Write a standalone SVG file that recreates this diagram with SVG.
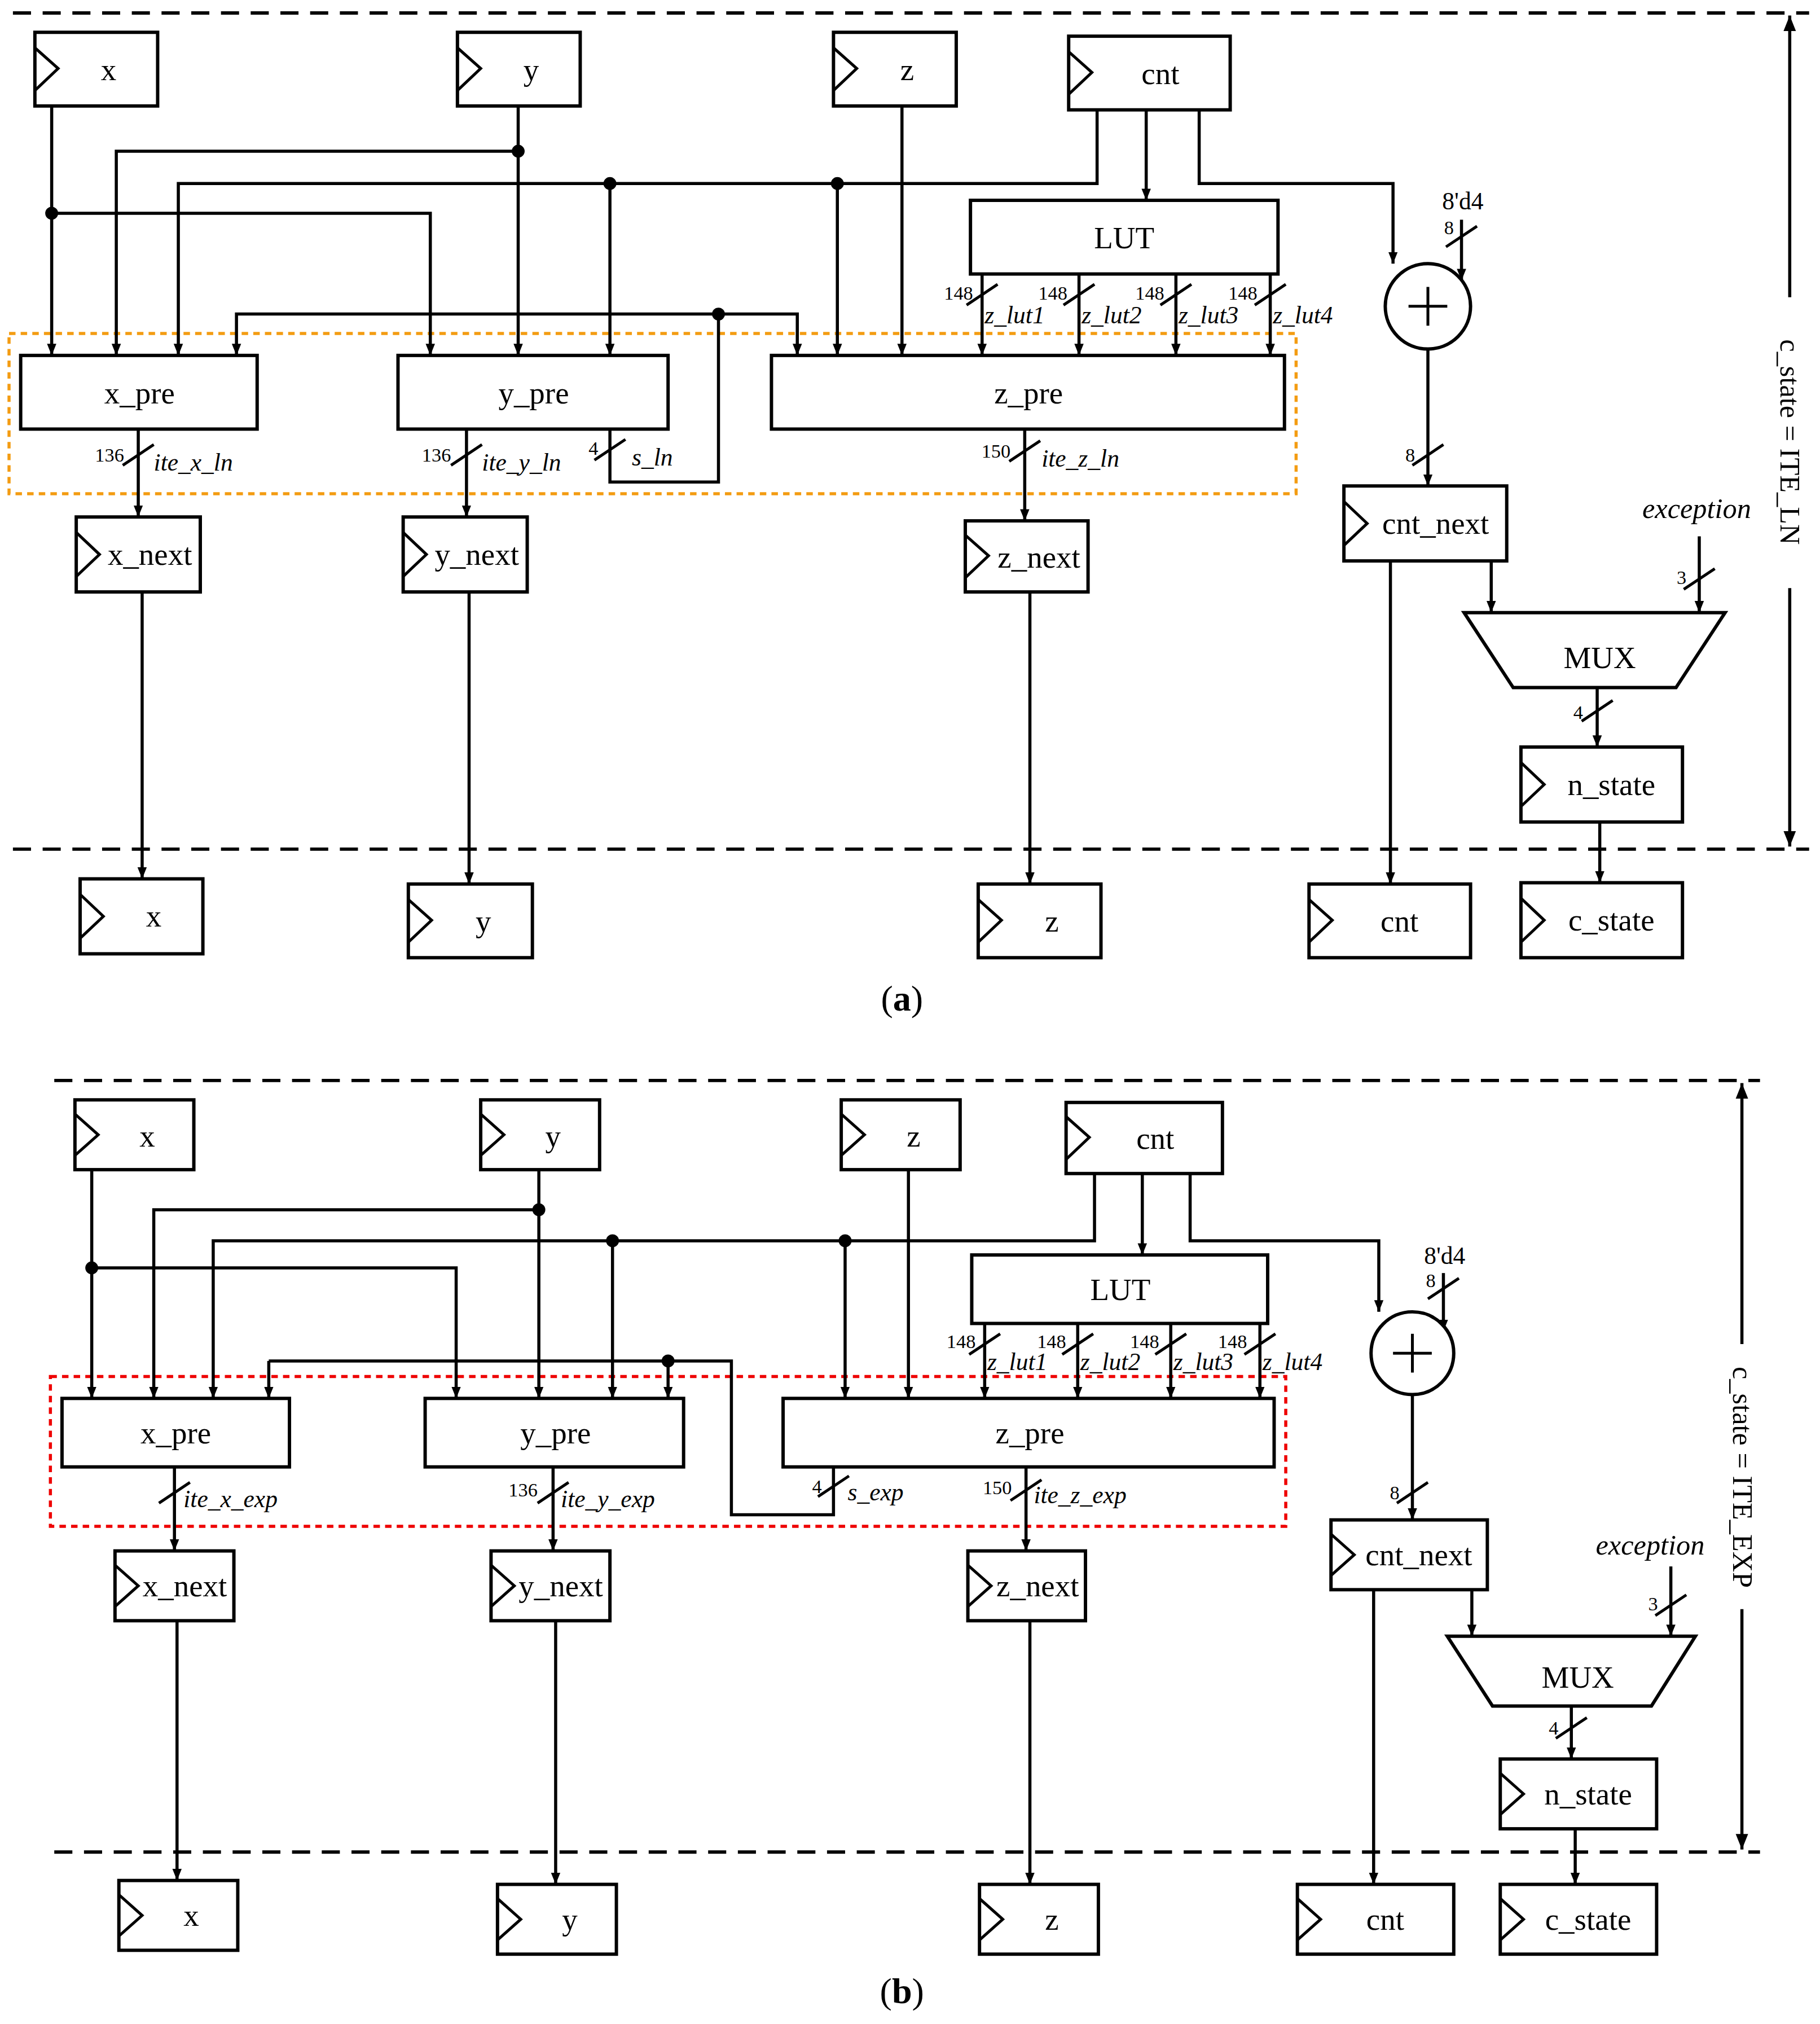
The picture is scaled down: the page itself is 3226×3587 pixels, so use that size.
<svg xmlns="http://www.w3.org/2000/svg" width="3226" height="3587" viewBox="0 0 3226 3587">
<style>
.b{fill:#fff;stroke:#000;stroke-width:2.6}
.c{fill:none;stroke:#000;stroke-width:2.2}
.w{fill:none;stroke:#000;stroke-width:2.4}
.a{fill:none;stroke:#000;stroke-width:2.4;marker-end:url(#ar)}
.d{fill:none;stroke:#000;stroke-width:2.6;stroke-dasharray:14 9}
.s{stroke:#000;stroke-width:2.2}
text{font-family:"Liberation Serif",serif;fill:#000}
.t{font-size:24px;text-anchor:middle}
.n{font-size:15px;text-anchor:end}
.i{font-size:19px;font-style:italic}
</style>
<defs>
<marker id="ar" viewBox="0 0 10 10" refX="10" refY="5" markerWidth="9" markerHeight="9" markerUnits="userSpaceOnUse" orient="auto"><path d="M0,1 L10,5 L0,9 z"/></marker>
<marker id="ab" viewBox="0 0 10 10" refX="10" refY="5" markerWidth="12" markerHeight="12" markerUnits="userSpaceOnUse" orient="auto-start-reverse"><path d="M0,1 L10,5 L0,9 z"/></marker>
</defs>
<rect width="3226" height="3587" fill="#fff"/>
<g transform="scale(2.2905)">
<!-- panel a -->
<g id="frame-a">
<line class="d" x1="10" y1="10" x2="1400" y2="10"/>
<line class="d" x1="10" y1="657" x2="1400" y2="657"/>
<line class="w" x1="1385" y1="12" x2="1385" y2="230" style="marker-start:url(#ab)"/>
<line class="w" x1="1385" y1="455" x2="1385" y2="655" style="marker-end:url(#ab)"/>
<text class="t" transform="translate(1378,342) rotate(90)" style="font-size:22px">c_state = ITE_LN</text>
<rect x="7" y="258" width="996" height="124" fill="none" stroke="#f39c12" stroke-width="2.4" stroke-dasharray="5 4"/>
<text class="t" x="698" y="782" style="font-size:28px">(<tspan font-weight="bold">a</tspan>)</text>
</g>
<g id="connectors-a">
<polyline class="a" points="40,82 40,275"/>
<polyline class="a" points="40,165 333,165 333,275"/>
<polyline class="a" points="401,82 401,275"/>
<polyline class="a" points="401,117 90,117 90,275"/>
<polyline class="a" points="849,85 849,142 138,142 138,275"/>
<polyline class="a" points="472,142 472,275"/>
<polyline class="a" points="648,142 648,275"/>
<polyline class="a" points="887,85 887,155"/>
<polyline class="a" points="928,85 928,142 1078,142 1078,204"/>
<polyline class="a" points="698,82 698,275"/>
<polyline class="w" points="472,332 472,373 556,373 556,243"/>
<polyline class="a" points="556,243 183,243 183,275"/>
<polyline class="a" points="556,243 617,243 617,275"/>
<polyline class="a" points="760,212 760,275"/>
<polyline class="a" points="835,212 835,275"/>
<polyline class="a" points="910,212 910,275"/>
<polyline class="a" points="983,212 983,275"/>
<polyline class="a" points="107,332 107,400"/>
<polyline class="a" points="361,332 361,400"/>
<polyline class="a" points="793,332 793,403"/>
<polyline class="a" points="110,458 110,680"/>
<polyline class="a" points="363,458 363,684"/>
<polyline class="a" points="797,458 797,684"/>
<polyline class="a" points="1131,170 1131,217"/>
<polyline class="a" points="1105,270 1105,376"/>
<polyline class="a" points="1076,434 1076,684"/>
<polyline class="a" points="1154,434 1154,474"/>
<polyline class="a" points="1315,415 1315,474"/>
<polyline class="a" points="1236,532 1236,578"/>
<polyline class="a" points="1238,636 1238,683"/>
<g fill="#000"><circle cx="40" cy="165" r="5"/><circle cx="401" cy="117" r="5"/><circle cx="472" cy="142" r="5"/><circle cx="648" cy="142" r="5"/><circle cx="556" cy="243" r="5"/></g>
<g class="s">
<line x1="748" y1="236" x2="772" y2="220"/><line x1="823" y1="236" x2="847" y2="220"/><line x1="898" y1="236" x2="922" y2="220"/><line x1="971" y1="236" x2="995" y2="220"/>
<line x1="95" y1="360" x2="119" y2="344"/><line x1="349" y1="360" x2="373" y2="344"/><line x1="781" y1="357" x2="805" y2="341"/><line x1="460" y1="356" x2="484" y2="340"/>
<line x1="1119" y1="191" x2="1143" y2="175"/><line x1="1093" y1="360" x2="1117" y2="344"/><line x1="1303" y1="456" x2="1327" y2="440"/><line x1="1224" y1="558" x2="1248" y2="542"/>
</g>
<g>
<text class="n" x="753" y="232">148</text><text class="n" x="826" y="232">148</text><text class="n" x="901" y="232">148</text><text class="n" x="973" y="232">148</text>
<text class="i" x="762" y="250">z_lut1</text><text class="i" x="837" y="250">z_lut2</text><text class="i" x="912" y="250">z_lut3</text><text class="i" x="985" y="250">z_lut4</text>
<text class="n" x="96" y="357">136</text><text class="i" x="119" y="364">ite_x_ln</text>
<text class="n" x="349" y="357">136</text><text class="i" x="373" y="364">ite_y_ln</text>
<text class="n" x="782" y="354">150</text><text class="i" x="806" y="361">ite_z_ln</text>
<text class="n" x="463" y="352">4</text><text class="i" x="489" y="360">s_ln</text>
<text class="t" x="1132" y="162" style="font-size:19px">8'd4</text><text class="n" x="1125" y="181">8</text>
<text class="n" x="1095" y="357">8</text><text class="n" x="1305" y="452">3</text><text class="n" x="1225" y="556">4</text>
<text class="i" x="1313" y="401" text-anchor="middle" style="font-size:22px">exception</text>
</g>
</g>
<g id="nodes-a">
<g id="a-x"><rect class="b" x="27" y="25" width="95" height="57"/><polyline class="c" points="27,37 45,53 27,70"/><text class="t" x="84" y="62">x</text></g>
<g id="a-y"><rect class="b" x="354" y="25" width="95" height="57"/><polyline class="c" points="354,37 372,53 354,70"/><text class="t" x="411" y="62">y</text></g>
<g id="a-z"><rect class="b" x="645" y="25" width="95" height="57"/><polyline class="c" points="645,37 663,53 645,70"/><text class="t" x="702" y="62">z</text></g>
<g id="a-cnt"><rect class="b" x="827" y="28" width="125" height="57"/><polyline class="c" points="827,40 845,56 827,73"/><text class="t" x="898" y="65">cnt</text></g>
<g id="a-lut"><rect class="b" x="751" y="155" width="238" height="57"/><text class="t" x="870" y="192">LUT</text></g>
<g id="a-xpre"><rect class="b" x="16" y="275" width="183" height="57"/><text class="t" x="108" y="312">x_pre</text></g>
<g id="a-ypre"><rect class="b" x="308" y="275" width="209" height="57"/><text class="t" x="413" y="312">y_pre</text></g>
<g id="a-zpre"><rect class="b" x="597" y="275" width="397" height="57"/><text class="t" x="796" y="312">z_pre</text></g>
<g id="a-xnext"><rect class="b" x="59" y="400" width="96" height="58"/><polyline class="c" points="59,412 77,429 59,446"/><text class="t" x="116" y="437">x_next</text></g>
<g id="a-ynext"><rect class="b" x="312" y="400" width="96" height="58"/><polyline class="c" points="312,412 330,429 312,446"/><text class="t" x="369" y="437">y_next</text></g>
<g id="a-znext"><rect class="b" x="747" y="403" width="95" height="55"/><polyline class="c" points="747,414 765,430 747,447"/><text class="t" x="804" y="439">z_next</text></g>
<g id="a-add"><circle class="b" cx="1105" cy="237" r="33"/><line class="c" x1="1090" y1="237" x2="1120" y2="237"/><line class="c" x1="1105" y1="222" x2="1105" y2="252"/></g>
<g id="a-cntnext"><rect class="b" x="1040" y="376" width="126" height="58"/><polyline class="c" points="1040,388 1058,405 1040,422"/><text class="t" x="1111" y="413">cnt_next</text></g>
<g id="a-mux"><polygon class="b" points="1133,474 1335,474 1297,532 1171,532"/><text class="t" x="1238" y="517">MUX</text></g>
<g id="a-nstate"><rect class="b" x="1177" y="578" width="125" height="58"/><polyline class="c" points="1177,590 1195,607 1177,624"/><text class="t" x="1247" y="615">n_state</text></g>
<g id="a-x2"><rect class="b" x="62" y="680" width="95" height="58"/><polyline class="c" points="62,692 80,709 62,726"/><text class="t" x="119" y="717">x</text></g>
<g id="a-y2"><rect class="b" x="316" y="684" width="96" height="57"/><polyline class="c" points="316,696 334,712 316,729"/><text class="t" x="374" y="721">y</text></g>
<g id="a-z2"><rect class="b" x="757" y="684" width="95" height="57"/><polyline class="c" points="757,696 775,712 757,729"/><text class="t" x="814" y="721">z</text></g>
<g id="a-cnt2"><rect class="b" x="1013" y="684" width="125" height="57"/><polyline class="c" points="1013,696 1031,712 1013,729"/><text class="t" x="1083" y="721">cnt</text></g>
<g id="a-cstate"><rect class="b" x="1177" y="683" width="125" height="58"/><polyline class="c" points="1177,695 1195,712 1177,729"/><text class="t" x="1247" y="720">c_state</text></g>
</g>
<!-- panel b -->
<g id="frame-b">
<line class="d" x1="42" y1="836" x2="1362" y2="836"/>
<line class="d" x1="42" y1="1433" x2="1362" y2="1433"/>
<line class="w" x1="1348" y1="838" x2="1348" y2="1040" style="marker-start:url(#ab)"/>
<line class="w" x1="1348" y1="1245" x2="1348" y2="1431" style="marker-end:url(#ab)"/>
<text class="t" transform="translate(1341,1143) rotate(90)" style="font-size:22px">c_state = ITE_EXP</text>
<rect x="39" y="1065" width="956" height="116" fill="none" stroke="#e00" stroke-width="2.4" stroke-dasharray="5 4"/>
<text class="t" x="698" y="1550" style="font-size:28px">(<tspan font-weight="bold">b</tspan>)</text>
</g>
<g id="connectors-b">
<polyline class="a" points="71,905 71,1082"/>
<polyline class="a" points="71,981 353,981 353,1082"/>
<polyline class="a" points="417,905 417,1082"/>
<polyline class="a" points="417,936 119,936 119,1082"/>
<polyline class="a" points="847,908 847,960 165,960 165,1082"/>
<polyline class="a" points="474,960 474,1082"/>
<polyline class="a" points="654,960 654,1082"/>
<polyline class="a" points="884,908 884,971"/>
<polyline class="a" points="921,908 921,960 1067,960 1067,1015"/>
<polyline class="a" points="703,905 703,1082"/>
<polyline class="w" points="645,1135 645,1172 566,1172 566,1053 208,1053"/>
<polyline class="a" points="208,1053 208,1082"/>
<polyline class="a" points="517,1053 517,1082"/>
<polyline class="a" points="762,1024 762,1082"/>
<polyline class="a" points="834,1024 834,1082"/>
<polyline class="a" points="906,1024 906,1082"/>
<polyline class="a" points="975,1024 975,1082"/>
<polyline class="a" points="135,1135 135,1200"/>
<polyline class="a" points="428,1135 428,1200"/>
<polyline class="a" points="794,1135 794,1200"/>
<polyline class="a" points="137,1254 137,1455"/>
<polyline class="a" points="430,1254 430,1458"/>
<polyline class="a" points="797,1254 797,1458"/>
<polyline class="a" points="1117,985 1117,1030"/>
<polyline class="a" points="1093,1079 1093,1176"/>
<polyline class="a" points="1063,1230 1063,1458"/>
<polyline class="a" points="1139,1230 1139,1266"/>
<polyline class="a" points="1293,1212 1293,1266"/>
<polyline class="a" points="1216,1320 1216,1361"/>
<polyline class="a" points="1219,1415 1219,1458"/>
<g fill="#000"><circle cx="71" cy="981" r="5"/><circle cx="417" cy="936" r="5"/><circle cx="474" cy="960" r="5"/><circle cx="654" cy="960" r="5"/><circle cx="517" cy="1053" r="5"/></g>
<g class="s">
<line x1="750" y1="1048" x2="774" y2="1032"/><line x1="822" y1="1048" x2="846" y2="1032"/><line x1="894" y1="1048" x2="918" y2="1032"/><line x1="963" y1="1048" x2="987" y2="1032"/>
<line x1="123" y1="1163" x2="147" y2="1147"/><line x1="416" y1="1163" x2="440" y2="1147"/><line x1="782" y1="1161" x2="806" y2="1145"/><line x1="633" y1="1158" x2="657" y2="1142"/>
<line x1="1105" y1="1005" x2="1129" y2="989"/><line x1="1081" y1="1163" x2="1105" y2="1147"/><line x1="1281" y1="1250" x2="1305" y2="1234"/><line x1="1204" y1="1345" x2="1228" y2="1329"/>
</g>
<g>
<text class="n" x="755" y="1043">148</text><text class="n" x="825" y="1043">148</text><text class="n" x="897" y="1043">148</text><text class="n" x="965" y="1043">148</text>
<text class="i" x="764" y="1060">z_lut1</text><text class="i" x="836" y="1060">z_lut2</text><text class="i" x="908" y="1060">z_lut3</text><text class="i" x="977" y="1060">z_lut4</text>
<text class="i" x="142" y="1166">ite_x_exp</text>
<text class="n" x="416" y="1158">136</text><text class="i" x="434" y="1166">ite_y_exp</text>
<text class="n" x="783" y="1156">150</text><text class="i" x="800" y="1163">ite_z_exp</text>
<text class="n" x="636" y="1155">4</text><text class="i" x="656" y="1161">s_exp</text>
<text class="t" x="1118" y="978" style="font-size:19px">8'd4</text><text class="n" x="1111" y="996">8</text>
<text class="n" x="1083" y="1160">8</text><text class="n" x="1283" y="1246">3</text><text class="n" x="1206" y="1342">4</text>
<text class="i" x="1277" y="1203" text-anchor="middle" style="font-size:22px">exception</text>
</g>
</g>
<g id="nodes-b">
<g id="b-x"><rect class="b" x="58" y="851" width="92" height="54"/><polyline class="c" points="58,862 76,878 58,894"/><text class="t" x="114" y="887">x</text></g>
<g id="b-y"><rect class="b" x="372" y="851" width="92" height="54"/><polyline class="c" points="372,862 390,878 372,894"/><text class="t" x="428" y="887">y</text></g>
<g id="b-z"><rect class="b" x="651" y="851" width="92" height="54"/><polyline class="c" points="651,862 669,878 651,894"/><text class="t" x="707" y="887">z</text></g>
<g id="b-cnt"><rect class="b" x="825" y="853" width="121" height="55"/><polyline class="c" points="825,864 843,880 825,897"/><text class="t" x="894" y="889">cnt</text></g>
<g id="b-lut"><rect class="b" x="752" y="971" width="229" height="53"/><text class="t" x="867" y="1006">LUT</text></g>
<g id="b-xpre"><rect class="b" x="48" y="1082" width="176" height="53"/><text class="t" x="136" y="1117">x_pre</text></g>
<g id="b-ypre"><rect class="b" x="329" y="1082" width="200" height="53"/><text class="t" x="430" y="1117">y_pre</text></g>
<g id="b-zpre"><rect class="b" x="606" y="1082" width="380" height="53"/><text class="t" x="797" y="1117">z_pre</text></g>
<g id="b-xnext"><rect class="b" x="89" y="1200" width="92" height="54"/><polyline class="c" points="89,1211 107,1227 89,1243"/><text class="t" x="143" y="1235">x_next</text></g>
<g id="b-ynext"><rect class="b" x="380" y="1200" width="92" height="54"/><polyline class="c" points="380,1211 398,1227 380,1243"/><text class="t" x="434" y="1235">y_next</text></g>
<g id="b-znext"><rect class="b" x="749" y="1200" width="91" height="54"/><polyline class="c" points="749,1211 767,1227 749,1243"/><text class="t" x="803" y="1235">z_next</text></g>
<g id="b-add"><circle class="b" cx="1093" cy="1047" r="32"/><line class="c" x1="1078" y1="1047" x2="1108" y2="1047"/><line class="c" x1="1093" y1="1032" x2="1093" y2="1062"/></g>
<g id="b-cntnext"><rect class="b" x="1030" y="1176" width="121" height="54"/><polyline class="c" points="1030,1187 1048,1203 1030,1219"/><text class="t" x="1098" y="1211">cnt_next</text></g>
<g id="b-mux"><polygon class="b" points="1120,1266 1312,1266 1278,1320 1155,1320"/><text class="t" x="1221" y="1306">MUX</text></g>
<g id="b-nstate"><rect class="b" x="1161" y="1361" width="121" height="54"/><polyline class="c" points="1161,1372 1179,1388 1161,1404"/><text class="t" x="1229" y="1396">n_state</text></g>
<g id="b-x2"><rect class="b" x="92" y="1455" width="92" height="54"/><polyline class="c" points="92,1466 110,1482 92,1498"/><text class="t" x="148" y="1490">x</text></g>
<g id="b-y2"><rect class="b" x="385" y="1458" width="92" height="54"/><polyline class="c" points="385,1469 403,1485 385,1501"/><text class="t" x="441" y="1493">y</text></g>
<g id="b-z2"><rect class="b" x="758" y="1458" width="92" height="54"/><polyline class="c" points="758,1469 776,1485 758,1501"/><text class="t" x="814" y="1493">z</text></g>
<g id="b-cnt2"><rect class="b" x="1004" y="1458" width="121" height="54"/><polyline class="c" points="1004,1469 1022,1485 1004,1501"/><text class="t" x="1072" y="1493">cnt</text></g>
<g id="b-cstate"><rect class="b" x="1161" y="1458" width="121" height="54"/><polyline class="c" points="1161,1469 1179,1485 1161,1501"/><text class="t" x="1229" y="1493">c_state</text></g>
</g>
</g>
</svg>
